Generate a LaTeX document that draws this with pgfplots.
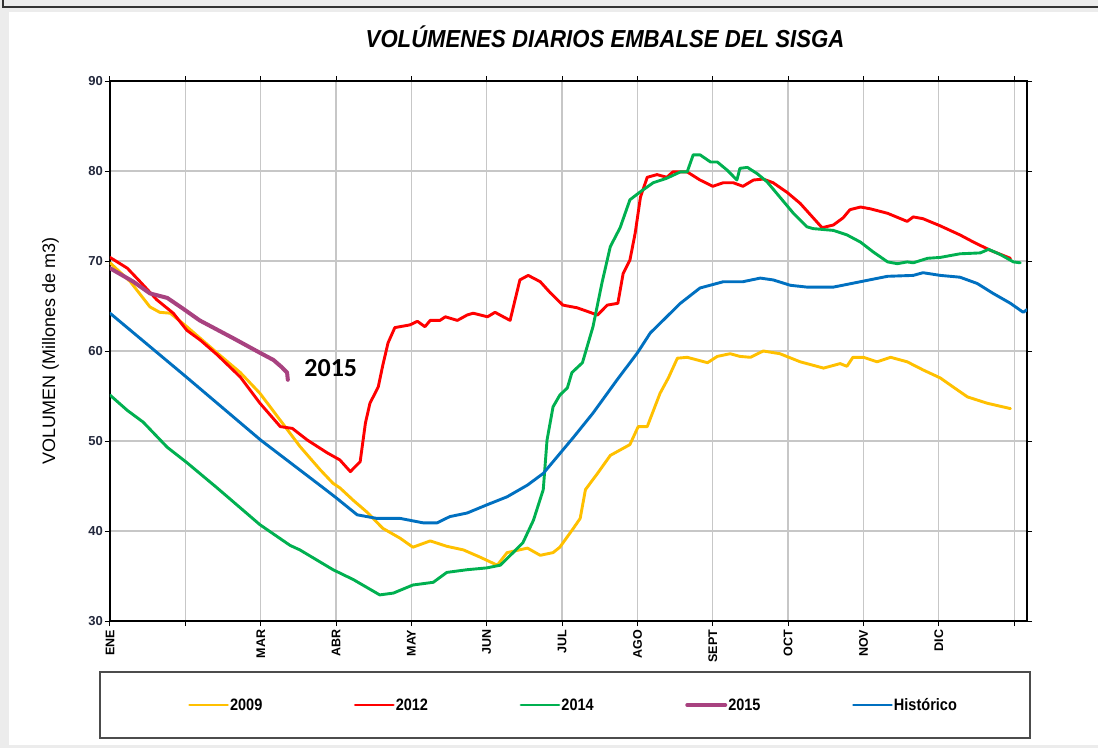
\documentclass[border=0pt]{standalone}
\usepackage{pgfplots}
\pgfplotsset{compat=1.18}
\usepackage{fontspec}
\setmainfont{Liberation Sans}
\newfontfamily\titlefont[FakeStretch=0.9]{Liberation Sans}
\newfontfamily\narrowfont[FakeStretch=0.88]{Liberation Sans}
\newfontfamily\carlito{Carlito}
\definecolor{c2009}{RGB}{255,192,0}
\definecolor{c2012}{RGB}{255,0,0}
\definecolor{c2014}{RGB}{0,176,80}
\definecolor{c2015}{RGB}{168,66,128}
\definecolor{chist}{RGB}{0,112,192}
\definecolor{ticktext}{RGB}{35,40,60}
\begin{document}
\begin{tikzpicture}[x=1pt,y=1pt]
\useasboundingbox (0,0) rectangle (1098,748);
\fill[gray!15] (0,0) rectangle (1098,748);
\fill[white] (9,3) rectangle (1098,736);
\draw[black!80, line width=1.5pt] (3,748) -- (3,741) -- (1098,741);
\node[font=\titlefont\bfseries\itshape\fontsize{24.6}{24.6}\selectfont] at (605,711) {VOLÚMENES DIARIOS EMBALSE DEL SISGA};
\draw[line width=1.5pt, black!70] (100,76) rectangle (1030,10);
\begin{axis}[
  at={(110pt,127pt)}, anchor=south west,
  scale only axis, width=917pt, height=540pt,
  xmin=0, xmax=12.17, ymin=30, ymax=90,
  xtick={0,1,...,12},
  xticklabels={ENE,,MAR,ABR,MAY,JUN,JUL,AGO,SEPT,OCT,NOV,DIC,},
  ytick={30,40,...,90},
  grid=major,
  grid style={black!22, line width=1.3pt},
  axis line style={black, line width=1.3pt},
  tick style={black, line width=1pt},
  tick align=outside, major tick length=5pt,
  /pgf/number format/assume math mode=true,
  yticklabel style={font=\bfseries\fontsize{13}{13}\selectfont, text=ticktext, inner sep=2pt},
  xticklabel style={font=\bfseries\fontsize{12.5}{12.5}\selectfont, text=black, rotate=90, anchor=east, inner sep=3.5pt},
  ylabel={VOLUMEN (Millones de m3)},
  ylabel style={font=\fontsize{18}{18}\selectfont, at={(axis description cs:-0.065,0.5)}, anchor=center, rotate=0},
  legend columns=5,
  legend style={at={(axis description cs:0.0850,-0.1556)}, anchor=west, draw=none, fill=none,
    inner sep=0pt, font=\narrowfont\bfseries\fontsize{16.5}{16.5}\selectfont,
    /tikz/every even column/.append style={column sep=90.5pt},
    nodes={inner sep=1pt}},
  legend image code/.code={\draw[#1] (0pt,0pt) -- (38pt,0pt);},
  every axis plot/.append style={line join=round, line cap=round},
  clip=true,
]
\addplot[c2009, line width=2.9pt] coordinates {
(0,69.8) (0.27,67.7) (0.53,64.9) (0.66,64.3) (0.80,64.2) (1.02,62.7) (1.42,59.8) (1.73,57.6) (1.99,55.3) (2.26,52.3) (2.52,49.4) (2.79,46.8) (2.96,45.3) (3.05,44.8) (3.23,43.4) (3.41,42.1) (3.62,40.3) (3.85,39.2) (4.02,38.2) (4.25,38.9) (4.47,38.3) (4.69,37.9) (4.91,37.1) (5.14,36.2) (5.27,37.6) (5.54,38.1) (5.71,37.3) (5.88,37.6) (5.97,38.2) (6.15,40.3) (6.24,41.4) (6.31,44.6) (6.47,46.4) (6.64,48.4) (6.90,49.6) (7.01,51.6) (7.13,51.6) (7.30,55.3) (7.41,57.0) (7.53,59.2) (7.66,59.3) (7.93,58.7) (8.06,59.4) (8.23,59.7) (8.36,59.4) (8.50,59.3) (8.67,60.0) (8.89,59.7) (9.16,58.8) (9.47,58.1) (9.69,58.6) (9.78,58.3) (9.86,59.3) (10.0,59.3) (10.18,58.8) (10.36,59.3) (10.58,58.8) (10.79,57.9) (11.02,57.0) (11.19,56.0) (11.38,54.9) (11.64,54.2) (11.95,53.6)
};
\addlegendentry{2009}
\addplot[c2012, line width=2.9pt] coordinates {
(0,70.4) (0.23,69.2) (0.40,67.7) (0.62,65.7) (0.84,64.2) (1.02,62.3) (1.20,61.2) (1.42,59.6) (1.73,57.1) (1.99,54.2) (2.26,51.6) (2.42,51.4) (2.62,50.1) (2.88,48.7) (3.05,47.9) (3.19,46.6) (3.32,47.7) (3.39,52.0) (3.45,54.2) (3.56,56.0) (3.62,58.4) (3.69,60.9) (3.78,62.6) (3.98,62.9) (4.08,63.3) (4.18,62.7) (4.25,63.4) (4.38,63.4) (4.45,63.8) (4.61,63.4) (4.74,64.0) (4.82,64.2) (5.01,63.8) (5.11,64.3) (5.22,63.8) (5.31,63.4) (5.44,67.9) (5.55,68.4) (5.71,67.7) (5.84,66.5) (6.01,65.1) (6.20,64.8) (6.47,64.0) (6.60,65.1) (6.74,65.3) (6.81,68.6) (6.90,70.1) (6.97,73.1) (7.04,77.1) (7.13,79.3) (7.26,79.6) (7.39,79.3) (7.47,79.9) (7.66,79.9) (7.83,79.0) (8.0,78.3) (8.14,78.7) (8.27,78.7) (8.40,78.3) (8.54,79.0) (8.67,79.1) (8.80,78.7) (8.99,77.6) (9.16,76.4) (9.45,73.7) (9.60,74.0) (9.73,74.8) (9.82,75.7) (9.96,76.0) (10.09,75.8) (10.32,75.3) (10.58,74.4) (10.66,74.9) (10.79,74.7) (11.02,73.9) (11.28,72.9) (11.46,72.1) (11.68,71.2) (11.95,70.3)
};
\addlegendentry{2012}
\addplot[c2014, line width=2.9pt] coordinates {
(0,55.1) (0.23,53.4) (0.44,52.1) (0.76,49.3) (1.02,47.6) (1.42,44.8) (1.99,40.7) (2.39,38.4) (2.52,37.9) (2.96,35.7) (3.23,34.6) (3.58,32.9) (3.76,33.1) (4.02,34.0) (4.29,34.3) (4.47,35.4) (4.74,35.7) (5.0,35.9) (5.18,36.2) (5.35,37.6) (5.48,38.7) (5.62,41.2) (5.75,44.6) (5.80,50.1) (5.88,53.8) (5.97,55.1) (6.07,55.9) (6.13,57.6) (6.27,58.7) (6.41,62.7) (6.53,67.6) (6.64,71.6) (6.77,73.7) (6.90,76.8) (7.04,77.7) (7.21,78.7) (7.39,79.2) (7.57,79.9) (7.66,79.9) (7.74,81.8) (7.83,81.8) (7.97,81.0) (8.06,81.0) (8.19,80.1) (8.32,79.0) (8.36,80.3) (8.46,80.4) (8.59,79.7) (8.72,78.8) (8.89,77.1) (9.07,75.3) (9.25,73.8) (9.33,73.6) (9.60,73.4) (9.78,72.9) (9.96,72.1) (10.13,71.0) (10.32,69.9) (10.45,69.7) (10.58,69.9) (10.66,69.8) (10.85,70.3) (11.02,70.4) (11.28,70.8) (11.55,70.9) (11.66,71.3) (11.82,70.7) (11.99,69.9) (12.08,69.8)
};
\addlegendentry{2014}
\addplot[c2015, line width=4pt] coordinates {
(0,69.2) (0.31,67.7) (0.53,66.4) (0.76,65.9) (0.97,64.7) (1.19,63.4) (1.64,61.4) (1.99,59.8) (2.17,59.0) (2.28,58.2) (2.35,57.6) (2.36,56.8)
};
\addlegendentry{2015}
\addplot[chist, line width=2.9pt] coordinates {
(0,64.2) (1.0,57.2) (2.0,50.1) (2.83,44.8) (3.0,43.7) (3.28,41.8) (3.54,41.4) (3.85,41.4) (4.16,40.9) (4.34,40.9) (4.51,41.6) (4.74,42.0) (5.0,42.9) (5.27,43.8) (5.54,45.1) (5.75,46.4) (6.15,50.4) (6.41,53.1) (6.73,56.8) (7.0,59.8) (7.17,62.0) (7.57,65.3) (7.83,67.0) (8.14,67.7) (8.40,67.7) (8.63,68.1) (8.80,67.9) (9.03,67.3) (9.25,67.1) (9.60,67.1) (9.96,67.7) (10.32,68.3) (10.66,68.4) (10.79,68.7) (11.02,68.4) (11.28,68.2) (11.51,67.5) (11.72,66.4) (11.95,65.3) (12.12,64.3) (12.17,64.6)
};
\addlegendentry{Histórico}
\node[font=\carlito\bfseries\fontsize{26}{26}\selectfont, text=black] at (axis cs:2.93,58.1) {2015};
\end{axis}
\end{tikzpicture}
\end{document}
